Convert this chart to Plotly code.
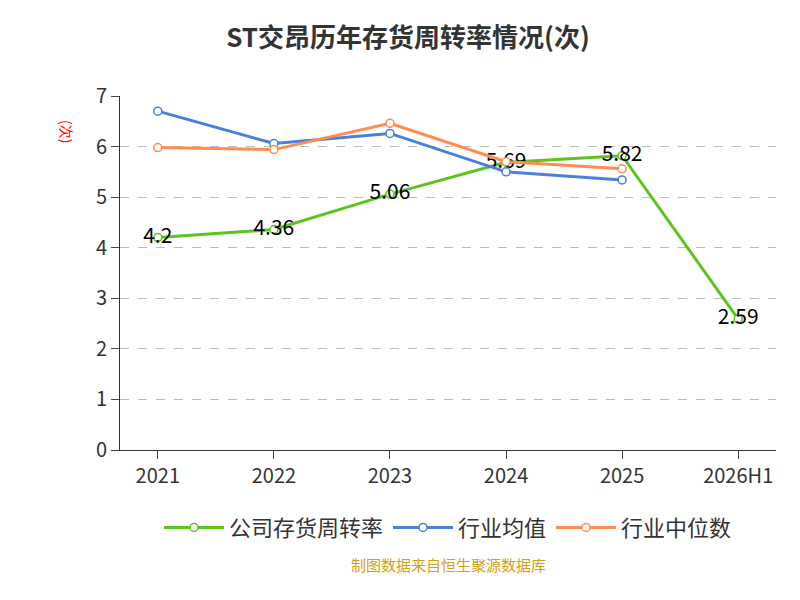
import plotly.graph_objects as go

years = ['2021', '2022', '2023', '2024', '2025', '2026H1']
company = [4.2, 4.36, 5.06, 5.69, 5.82, 2.59]
ind_avg = [6.7, 6.06, 6.26, 5.5, 5.34, None]
ind_med = [5.98, 5.94, 6.46, 5.7, 5.56, None]

fig = go.Figure()
fig.add_trace(go.Scatter(x=years, y=company, mode='lines+markers+text', name='公司存货周转率',
                         text=[str(v) for v in company], textposition='middle center',
                         textfont=dict(size=21, color='#000'),
                         line=dict(color='#5cc41e', width=3),
                         marker=dict(size=8, color='white', line=dict(color='#5cc41e', width=1.5))))
fig.add_trace(go.Scatter(x=years, y=ind_avg, mode='lines+markers', name='行业均值',
                         line=dict(color='#4a7fe0', width=3),
                         marker=dict(size=8, color='white', line=dict(color='#4a7fe0', width=1.5))))
fig.add_trace(go.Scatter(x=years, y=ind_med, mode='lines+markers', name='行业中位数',
                         line=dict(color='#ff8c50', width=3),
                         marker=dict(size=8, color='white', line=dict(color='#ff8c50', width=1.5))))

fig.update_layout(
    width=800, height=600, plot_bgcolor='white', paper_bgcolor='white',
    font=dict(family='Noto Sans CJK SC', color='#333'),
    title=dict(text='<b>ST交昂历年存货周转率情况(次)</b>', x=0.5, y=0.965, font=dict(size=26)),
    margin=dict(l=112, r=32, t=88, b=158),
    showlegend=True,
    legend=dict(orientation='h', x=0.5, xanchor='center', y=-0.16, font=dict(size=22),
                itemwidth=60),
    xaxis=dict(showline=True, linecolor='#333', ticks='outside', ticklen=8, tickfont=dict(size=20),
               showgrid=False),
    yaxis=dict(range=[0, 7], dtick=1, showline=True, linecolor='#333', ticks='outside', ticklen=8,
               tickfont=dict(size=20), gridcolor='#bbb', griddash='dash'),
    annotations=[
        dict(text='(次)', x=-0.1, y=6.3, xref='paper', yref='y', showarrow=False, textangle=90,
             font=dict(size=14, color='red')),
        dict(text='制图数据来自恒生聚源数据库', x=0.5, y=-0.36, xref='paper', yref='paper',
             showarrow=False, font=dict(size=15, color='#d4a017'))],
)
fig.write_html('out.html')
